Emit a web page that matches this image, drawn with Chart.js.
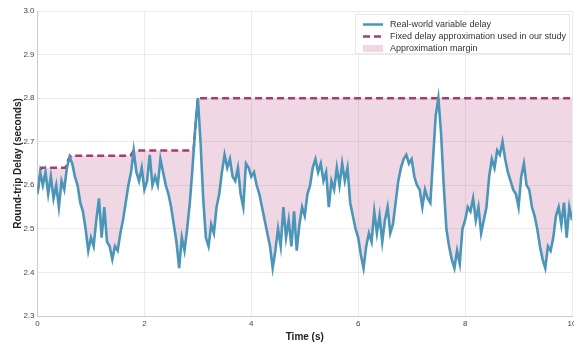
<!DOCTYPE html>
<html>
<head>
<meta charset="utf-8">
<script src="https://cdn.jsdelivr.net/npm/chart.js@4/dist/chart.umd.min.js"></script>
<style>
  html, body { margin:0; padding:0; background:#fff; }
  #wrap { width:574px; height:343px; }
</style>
</head>
<body>
<div id="wrap"><canvas id="c" width="574" height="343"></canvas></div>
<script>
// time axis (s), sampled every 0.05 s
const timeSec = [
  0,0.05,0.1,0.15,0.2,0.25,0.3,0.35,0.4,0.45,0.5,0.55,0.6,0.65,0.7,0.75,0.8,0.85,0.9,0.95,
  1,1.05,1.1,1.15,1.2,1.25,1.3,1.35,1.4,1.45,1.5,1.55,1.6,1.65,1.7,1.75,1.8,1.85,1.9,1.95,
  2,2.05,2.1,2.15,2.2,2.25,2.3,2.35,2.4,2.45,2.5,2.55,2.6,2.65,2.7,2.75,2.8,2.85,2.9,2.95,
  3,3.05,3.1,3.15,3.2,3.25,3.3,3.35,3.4,3.45,3.5,3.55,3.6,3.65,3.7,3.75,3.8,3.85,3.9,3.95,
  4,4.05,4.1,4.15,4.2,4.25,4.3,4.35,4.4,4.45,4.5,4.55,4.6,4.65,4.7,4.75,4.8,4.85,4.9,4.95,
  5,5.05,5.1,5.15,5.2,5.25,5.3,5.35,5.4,5.45,5.5,5.55,5.6,5.65,5.7,5.75,5.8,5.85,5.9,5.95,
  6,6.05,6.1,6.15,6.2,6.25,6.3,6.35,6.4,6.45,6.5,6.55,6.6,6.65,6.7,6.75,6.8,6.85,6.9,6.95,
  7,7.05,7.1,7.15,7.2,7.25,7.3,7.35,7.4,7.45,7.5,7.55,7.6,7.65,7.7,7.75,7.8,7.85,7.9,7.95,
  8,8.05,8.1,8.15,8.2,8.25,8.3,8.35,8.4,8.45,8.5,8.55,8.6,8.65,8.7,8.75,8.8,8.85,8.9,8.95,
  9,9.05,9.1,9.15,9.2,9.25,9.3,9.35,9.4,9.45,9.5,9.55,9.6,9.65,9.7,9.75,9.8,9.85,9.9,9.95,
  10
];

// real-world variable delay (s)
const realDelay = [
  2.58,2.63,2.60,2.63,2.58,2.62,2.57,2.60,2.55,2.61,2.59,2.64,2.665,2.65,2.62,2.60,2.56,2.54,2.50,2.45,
  2.48,2.46,2.52,2.57,2.48,2.55,2.47,2.46,2.43,2.46,2.45,2.49,2.52,2.56,2.60,2.63,2.68,2.63,2.61,2.64,
  2.59,2.61,2.67,2.60,2.62,2.60,2.66,2.63,2.60,2.58,2.55,2.51,2.47,2.41,2.48,2.45,2.50,2.56,2.64,2.73,
  2.80,2.70,2.57,2.48,2.46,2.51,2.49,2.55,2.58,2.63,2.67,2.64,2.66,2.62,2.61,2.64,2.58,2.55,2.65,2.64,
  2.62,2.63,2.60,2.58,2.55,2.52,2.49,2.46,2.41,2.45,2.50,2.46,2.55,2.48,2.52,2.46,2.54,2.45,2.51,2.55,
  2.53,2.58,2.60,2.64,2.66,2.63,2.65,2.61,2.63,2.55,2.61,2.59,2.64,2.60,2.65,2.61,2.64,2.56,2.53,2.50,
  2.48,2.44,2.41,2.46,2.49,2.47,2.54,2.49,2.53,2.47,2.52,2.55,2.49,2.51,2.56,2.61,2.64,2.66,2.67,2.65,
  2.66,2.62,2.60,2.59,2.55,2.59,2.57,2.56,2.66,2.76,2.80,2.72,2.60,2.50,2.46,2.43,2.41,2.45,2.42,2.50,
  2.52,2.55,2.54,2.57,2.52,2.55,2.49,2.52,2.55,2.62,2.66,2.64,2.68,2.67,2.70,2.66,2.63,2.61,2.59,2.58,
  2.55,2.62,2.65,2.60,2.59,2.55,2.53,2.50,2.46,2.43,2.41,2.46,2.45,2.48,2.53,2.55,2.51,2.56,2.48,2.55,
  2.52
];

// fixed delay approximation (step envelope)
const fixedTime = [0, 0.07, 0.52, 0.58, 0.63, 1.74, 1.8, 2.92, 3.0, 10];
const fixedDelay = [2.585, 2.64, 2.64, 2.66, 2.668, 2.668, 2.68, 2.68, 2.80, 2.80];

const xTicks = [0, 2, 4, 6, 8, 10];
const yTicks = [2.3, 2.4, 2.5, 2.6, 2.7, 2.8, 2.9, 3.0];

const BLUE = "#4b95b8", RED = "#a63c72", FILL = "rgba(177,62,120,0.2)";
const FONT = "'Liberation Sans', Arial, sans-serif";

const legendLabels = [
  "Real-world variable delay",
  "Fixed delay approximation used in our study",
  "Approximation margin"
];

const insideLegend = {
  id: "insideLegend",
  afterDraw(chart){
    const ctx = chart.ctx, a = chart.chartArea;
    const bx = a.right - 217, by = a.top + 3, bw = 215, bh = 40;
    ctx.save();
    ctx.fillStyle = "rgba(255,255,255,0.9)";
    ctx.strokeStyle = "rgba(0,0,0,0.08)";
    ctx.lineWidth = 1;
    ctx.fillRect(bx, by, bw, bh);
    ctx.strokeRect(bx + .5, by + .5, bw - 1, bh - 1);
    const lx = bx + 8, tx = bx + 35;
    const rows = [by + 10.5, by + 22.5, by + 34.5];
    ctx.lineWidth = 2.5;
    ctx.strokeStyle = BLUE;
    ctx.beginPath(); ctx.moveTo(lx, rows[0]); ctx.lineTo(lx + 20, rows[0]); ctx.stroke();
    ctx.strokeStyle = RED;
    ctx.setLineDash([7, 4]);
    ctx.beginPath(); ctx.moveTo(lx, rows[1]); ctx.lineTo(lx + 20, rows[1]); ctx.stroke();
    ctx.setLineDash([]);
    ctx.fillStyle = FILL;
    ctx.fillRect(lx, rows[2] - 3.5, 20, 7);
    ctx.fillStyle = "#333";
    ctx.font = "9px " + FONT;
    ctx.textBaseline = "middle";
    legendLabels.forEach((t, i) => ctx.fillText(t, tx, rows[i]));
    ctx.restore();
  }
};

new Chart(document.getElementById("c").getContext("2d"), {
  type: "line",
  data: {
    datasets: [
      {
        label: legendLabels[0],
        data: timeSec.map((t, i) => ({ x: t, y: realDelay[i] })),
        borderColor: BLUE, borderWidth: 2.6, pointRadius: 0, tension: 0, fill: false
      },
      {
        label: legendLabels[1],
        data: fixedTime.map((t, i) => ({ x: t, y: fixedDelay[i] })),
        borderColor: RED, borderWidth: 2.5, borderDash: [7, 4], pointRadius: 0, tension: 0,
        backgroundColor: FILL, fill: 0
      }
    ]
  },
  options: {
    responsive: false, animation: false, devicePixelRatio: 1,
    layout: { padding: { top: 11, right: 2, left: 0, bottom: 0 } },
    plugins: { legend: { display: false }, tooltip: { enabled: false } },
    scales: {
      x: {
        type: "linear", min: 0, max: 10,
        afterBuildTicks: s => { s.ticks = xTicks.map(v => ({ value: v })); },
        afterFit: s => { s.height = 27; s.paddingLeft = 0; s.paddingRight = 0; },
        grid: { color: "#ebebeb", drawTicks: false },
        border: { color: "#cccccc" },
        ticks: { padding: 3, color: "#444", font: { family: FONT, size: 8 }, callback: v => String(v) },
        title: { display: true, text: "Time (s)", color: "#222", font: { family: FONT, size: 10, weight: "bold" }, padding: { top: 4, bottom: 0 } }
      },
      y: {
        type: "linear", min: 2.3, max: 3.0,
        afterBuildTicks: s => { s.ticks = yTicks.map(v => ({ value: v })); },
        afterFit: s => { s.width = 37.5; },
        grid: { color: "#ebebeb", drawTicks: false },
        border: { color: "#cccccc" },
        ticks: { padding: 3, color: "#444", font: { family: FONT, size: 8 }, callback: v => Number(v).toFixed(1) },
        title: { display: true, text: "Round-trip Delay (seconds)", color: "#222", font: { family: FONT, size: 10, weight: "bold" }, padding: { top: 12, bottom: 0 } }
      }
    }
  },
  plugins: [insideLegend]
});
</script>
</body>
</html>
